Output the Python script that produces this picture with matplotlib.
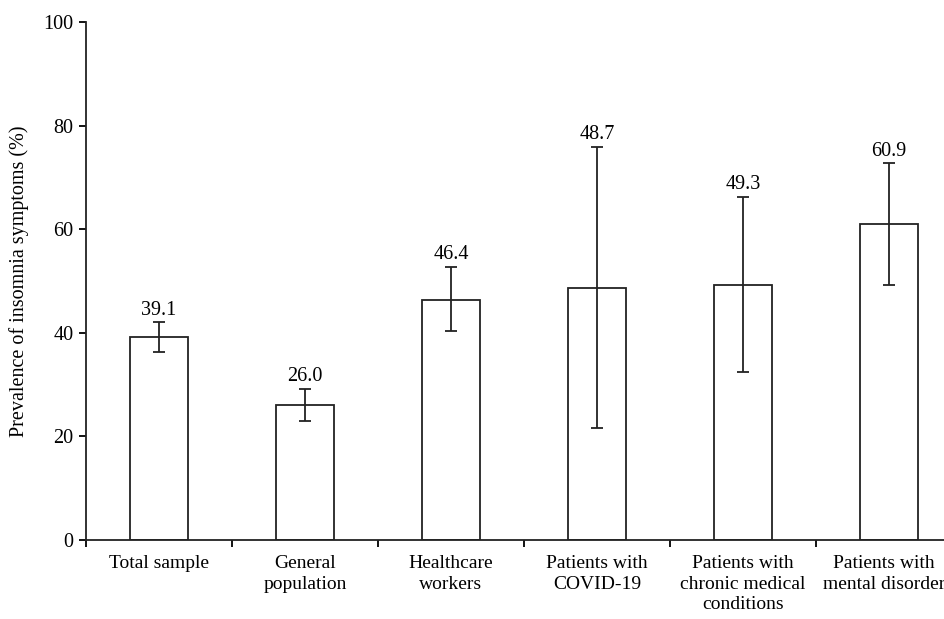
import numpy as np
import matplotlib
matplotlib.use("Agg")
import matplotlib.pyplot as plt
import matplotlib.transforms as mtransforms

# data
categories = ["Total sample", "General\npopulation", "Healthcare\nworkers",
              "Patients with\nCOVID-19", "Patients with\nchronic medical\nconditions",
              "Patients with\nmental disorder"]
prevalence = [39.1, 26.0, 46.4, 48.7, 49.3, 60.9]
ci_low = [36.2, 23.0, 40.4, 21.7, 32.5, 49.2]
ci_high = [42.0, 29.2, 52.7, 75.9, 66.2, 72.7]

plt.rcParams['font.family'] = ['Liberation Serif', 'DejaVu Serif']
FS = 14.5

fig = plt.figure(figsize=(9.45, 6.19), dpi=100)
ax = fig.add_axes([0.091, 0.1276, 0.927, 0.837])

x = np.arange(len(categories))
vals = np.array(prevalence)
yerr = [vals - np.array(ci_low), np.array(ci_high) - vals]

ax.bar(x, vals, width=0.4, color='white', edgecolor='#222222', linewidth=1.3)
ax.errorbar(x, vals, yerr=yerr, fmt='none', ecolor='#222222', elinewidth=1.3,
            capsize=4, capthick=1.3)

for xi, v, hi in zip(x, prevalence, ci_high):
    ax.annotate(f"{v:.1f}", (xi, hi), xytext=(0, 2), textcoords='offset points',
                ha='center', va='bottom', fontsize=FS)

ax.set_xlim(-0.5, len(categories) - 0.5)
ax.set_ylim(0, 100)
ax.set_yticks([0, 20, 40, 60, 80, 100])
ax.tick_params(axis='y', direction='out', length=5, width=1.3, labelsize=FS, pad=4)

# category labels centred on bars, tick marks at the boundaries
ax.set_xticks(x)
ax.set_xticklabels(categories, fontsize=14, linespacing=1.25)
ax.tick_params(axis='x', which='major', length=0, pad=11)
ax.set_xticks(np.arange(-0.5, len(categories), 1.0), minor=True)
ax.tick_params(axis='x', which='minor', direction='out', length=5, width=1.3)

# last label sits against the right edge, nudge it in a little
last = ax.get_xticklabels()[-1]
last.set_transform(last.get_transform() +
                   mtransforms.ScaledTranslation(-5 / 100, 0, fig.dpi_scale_trans))

ax.set_ylabel("Prevalence of insomnia symptoms (%)", fontsize=FS, labelpad=10)

for s in ['top', 'right']:
    ax.spines[s].set_visible(False)
for s in ['left', 'bottom']:
    ax.spines[s].set_linewidth(1.3)
    ax.spines[s].set_color('#222222')

fig.savefig("out.png", dpi=100)
